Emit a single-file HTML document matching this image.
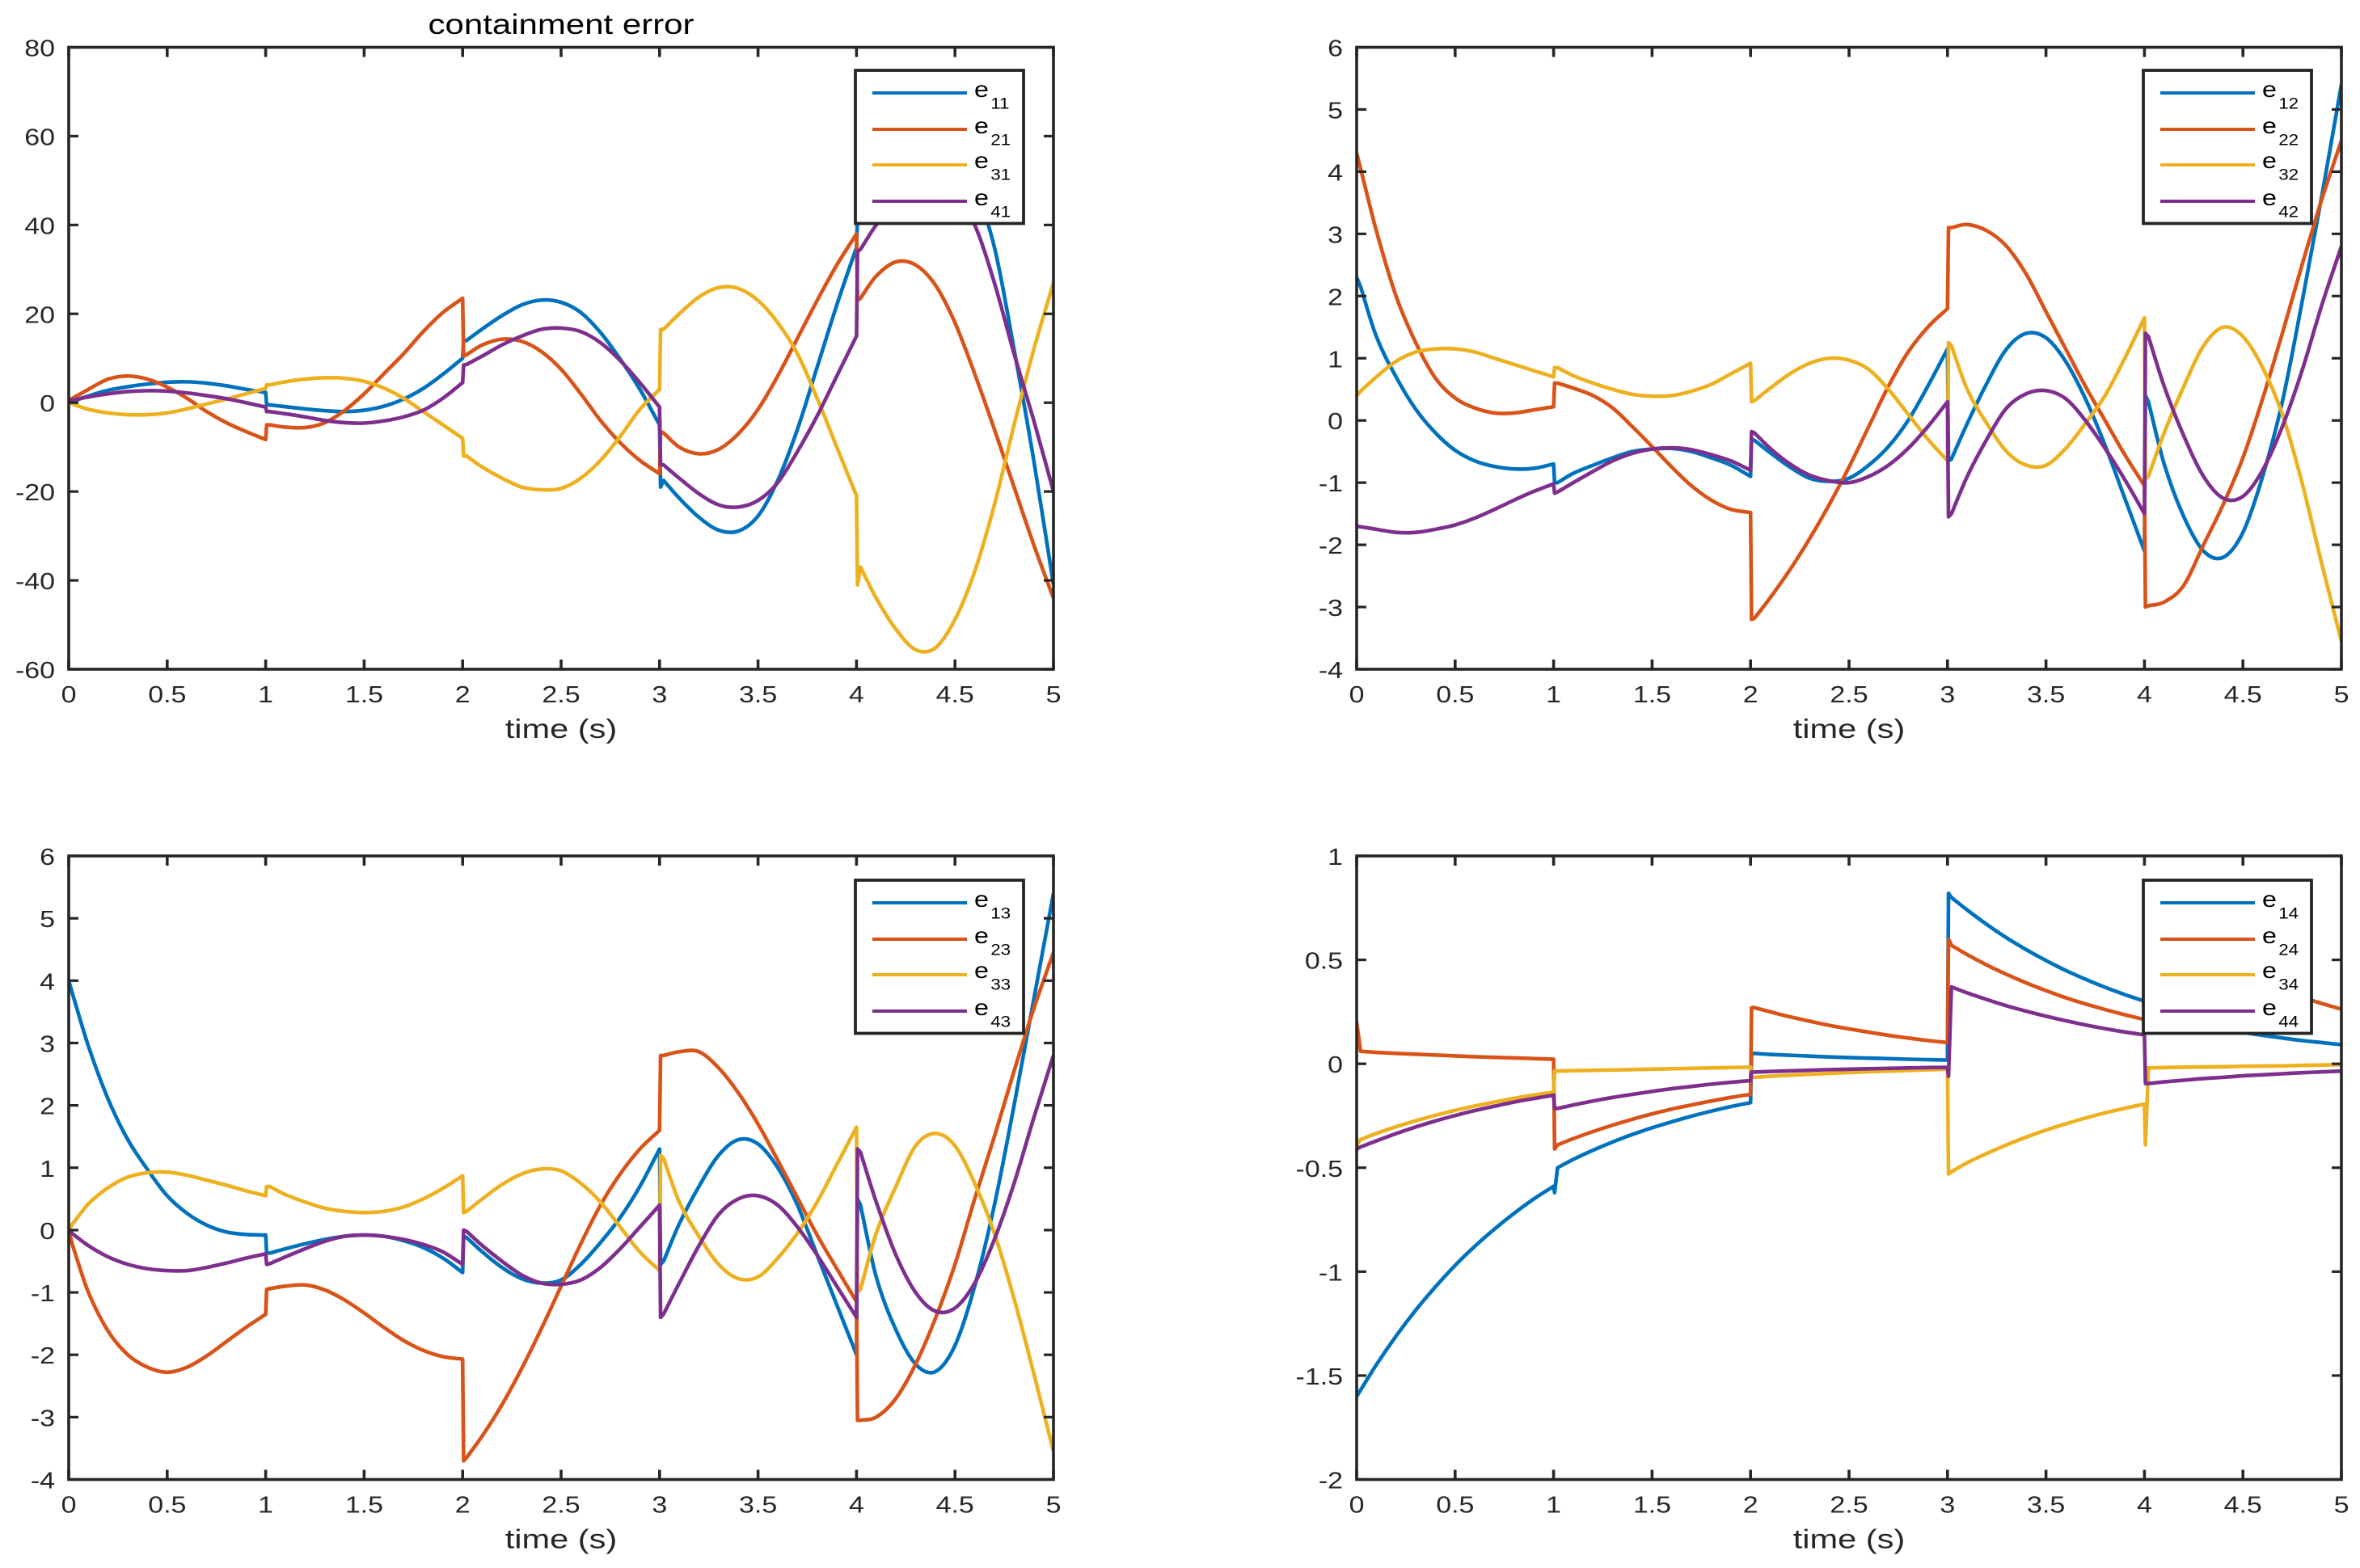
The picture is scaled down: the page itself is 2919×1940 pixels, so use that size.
<!DOCTYPE html>
<html lang="en">
<head>
<meta charset="utf-8">
<title>containment error</title>
<style>
html,body{margin:0;padding:0;background:#fff;}
body{width:2919px;height:1940px;overflow:hidden;}
svg{display:block;}
text{font-family:"Liberation Sans",Arial,sans-serif;}
</style>
</head>
<body>
<svg id="fig" xmlns="http://www.w3.org/2000/svg" width="2919" height="1940" viewBox="0 0 2919 1940">
<rect x="0" y="0" width="2919" height="1940" fill="#ffffff"/>
</svg>
<script>
// Shared time base: each of the 5 intervals holds 12 samples
// (switch overshoot, settled value after switch, then every 0.1 s).
const timeGrid = [
  0,0.02,0.1,0.2,0.3,0.4,0.5,0.6,0.7,0.8,0.9,1.0,
  1.005,1.02,1.1,1.2,1.3,1.4,1.5,1.6,1.7,1.8,1.9,2.0,
  2.005,2.02,2.1,2.2,2.3,2.4,2.5,2.6,2.7,2.8,2.9,3.0,
  3.005,3.02,3.1,3.2,3.3,3.4,3.5,3.6,3.7,3.8,3.9,4.0,
  4.005,4.02,4.1,4.2,4.3,4.4,4.5,4.6,4.7,4.8,4.9,5.0
];
const xTickValues = [0,0.5,1,1.5,2,2.5,3,3.5,4,4.5,5];
const xTickLabels = ["0","0.5","1","1.5","2","2.5","3","3.5","4","4.5","5"];

const yTicksA = [-60,-40,-20,0,20,40,60,80];
const yTicksB = [-4,-3,-2,-1,0,1,2,3,4,5,6];
const yTicksC = [-4,-3,-2,-1,0,1,2,3,4,5,6];
const yTicksD = [-2,-1.5,-1,-0.5,0,0.5,1];

const e11 = [
  0,0.3,1.5,2.8,3.6,4.2,4.6,4.7,4.4,3.8,3.0,2.3,
  -0.5,-0.5,-0.9,-1.4,-1.8,-2,-1.7,-0.8,0.8,3.2,6.4,10,
  14,14,16.6,19.6,22,23.1,22.6,20.3,15.8,9.8,3,-5,
  -19,-17.5,-21.5,-25.8,-28.7,-28.9,-25.5,-17.5,-6,8,22,35,
  42,42,48,53,56,56,53,48,35,12,-13,-41
];
const e21 = [
  0.5,1,3,5.3,6,5.3,3.5,1,-2,-4.5,-6.5,-8.3,
  -5,-5,-5.5,-5.6,-4.5,-1.8,2,6.5,11,16,20.3,23.5,
  10.5,10.8,13,14.3,13.8,11.5,7.5,2,-4,-9,-13,-16,
  -6.5,-6.8,-10,-11.5,-10.5,-7,-1.5,6,14.5,23,31,38,
  23,23.5,28.5,31.7,31,26.5,18,6.5,-6,-19,-32,-44
];
const e31 = [
  0,-0.3,-1.5,-2.3,-2.7,-2.7,-2.3,-1.4,-0.3,0.8,2,3.2,
  4,4,4.7,5.3,5.6,5.5,4.8,3.3,1,-2,-5,-8,
  -12,-12,-14.5,-17,-19,-19.6,-19.3,-17,-13,-7.6,-1.5,3,
  16.5,16.5,20,23.8,25.9,25.7,23,18,11,1,-10,-21,
  -41,-37,-44,-51,-55.6,-55.2,-48.8,-38,-23,-5,12,27
];
const e41 = [
  0.5,0.6,1.3,2,2.5,2.7,2.6,2.2,1.6,0.9,0,-1,
  -2,-2,-2.5,-3.2,-4,-4.5,-4.6,-4.1,-3.2,-1.7,1,4.5,
  8.5,8.6,10.5,13,15,16.5,16.8,16,13.5,9.5,4.5,-1,
  -14,-14,-17,-20.5,-23,-23.5,-22,-18,-11,-3,6,15,
  34,34.5,40,45,49,50,47,40,27,11,-4,-20
];

const e12 = [
  2.3,2.15,1.35,0.7,0.18,-0.2,-0.48,-0.65,-0.74,-0.78,-0.77,-0.7,
  -1,-1,-0.85,-0.72,-0.6,-0.5,-0.46,-0.45,-0.5,-0.6,-0.72,-0.9,
  -0.3,-0.32,-0.52,-0.75,-0.93,-0.98,-0.93,-0.72,-0.42,0,0.55,1.15,
  -0.65,-0.62,-0.05,0.6,1.15,1.4,1.33,0.95,0.35,-0.4,-1.25,-2.1,
  0.4,0.3,-0.7,-1.55,-2.1,-2.2,-1.8,-0.9,0.3,1.9,3.6,5.4
];
const e22 = [
  4.3,4.05,3.05,2.0,1.25,0.68,0.36,0.2,0.12,0.12,0.17,0.22,
  0.6,0.6,0.52,0.4,0.2,-0.1,-0.42,-0.75,-1.05,-1.28,-1.43,-1.48,
  -3.2,-3.18,-2.85,-2.4,-1.9,-1.35,-0.75,-0.1,0.55,1.1,1.5,1.8,
  3.1,3.1,3.15,3.05,2.8,2.35,1.75,1.15,0.55,0,-0.55,-1.05,
  -3,-2.98,-2.92,-2.65,-2.0,-1.35,-0.6,0.35,1.4,2.5,3.55,4.5
];
const e32 = [
  0.4,0.47,0.7,0.95,1.1,1.15,1.15,1.1,1,0.9,0.8,0.7,
  0.85,0.85,0.72,0.6,0.5,0.42,0.39,0.4,0.47,0.58,0.75,0.92,
  0.3,0.32,0.52,0.75,0.92,1,0.97,0.82,0.5,0.1,-0.3,-0.65,
  1.25,1.2,0.5,-0.05,-0.5,-0.72,-0.72,-0.45,-0.05,0.4,1,1.65,
  -0.95,-0.9,-0.2,0.55,1.2,1.5,1.35,0.85,0.1,-1,-2.3,-3.55
];
const e42 = [
  -1.7,-1.71,-1.75,-1.8,-1.8,-1.75,-1.68,-1.57,-1.43,-1.28,-1.14,-1.02,
  -1.17,-1.15,-1,-0.82,-0.65,-0.53,-0.46,-0.44,-0.47,-0.55,-0.65,-0.8,
  -0.18,-0.2,-0.45,-0.7,-0.88,-0.97,-1,-0.9,-0.72,-0.45,-0.1,0.3,
  -1.55,-1.5,-0.9,-0.3,0.2,0.43,0.48,0.35,0,-0.45,-0.95,-1.5,
  1.4,1.35,0.55,-0.25,-0.9,-1.25,-1.22,-0.8,-0.1,0.8,1.85,2.8
];

const e13 = [
  4,3.78,2.95,2.1,1.45,0.97,0.55,0.27,0.08,-0.03,-0.07,-0.08,
  -0.37,-0.37,-0.3,-0.22,-0.15,-0.1,-0.08,-0.1,-0.17,-0.28,-0.45,-0.68,
  -0.1,-0.12,-0.35,-0.6,-0.78,-0.85,-0.8,-0.55,-0.2,0.2,0.7,1.3,
  -0.55,-0.5,0.1,0.7,1.2,1.45,1.38,1,0.4,-0.4,-1.2,-2,
  0.5,0.4,-0.75,-1.6,-2.15,-2.27,-1.85,-0.9,0.4,2,3.7,5.4
];
const e23 = [
  0,-0.25,-1,-1.62,-2.0,-2.2,-2.28,-2.2,-2.02,-1.79,-1.56,-1.35,
  -0.95,-0.94,-0.9,-0.88,-0.96,-1.12,-1.33,-1.56,-1.77,-1.93,-2.03,-2.07,
  -3.7,-3.65,-3.3,-2.8,-2.22,-1.58,-0.9,-0.22,0.4,0.9,1.3,1.6,
  2.8,2.8,2.86,2.86,2.6,2.2,1.7,1.12,0.52,-0.08,-0.62,-1.15,
  -3.05,-3.05,-3,-2.7,-2.15,-1.42,-0.55,0.5,1.5,2.55,3.55,4.45
];
const e33 = [
  0,0.1,0.42,0.68,0.85,0.92,0.93,0.88,0.8,0.72,0.63,0.55,
  0.7,0.7,0.57,0.45,0.35,0.3,0.28,0.3,0.37,0.5,0.67,0.87,
  0.28,0.3,0.5,0.73,0.9,0.98,0.95,0.75,0.45,0.05,-0.35,-0.65,
  1.2,1.15,0.45,-0.1,-0.55,-0.78,-0.75,-0.45,-0.05,0.45,1.05,1.65,
  -1,-0.95,-0.05,0.7,1.35,1.55,1.35,0.75,-0.05,-1.1,-2.3,-3.55
];
const e43 = [
  0,-0.06,-0.25,-0.43,-0.55,-0.62,-0.65,-0.65,-0.6,-0.53,-0.45,-0.38,
  -0.55,-0.54,-0.43,-0.3,-0.18,-0.1,-0.08,-0.1,-0.15,-0.23,-0.35,-0.55,
  0,-0.02,-0.25,-0.5,-0.72,-0.85,-0.87,-0.8,-0.6,-0.3,0.05,0.4,
  -1.4,-1.35,-0.85,-0.25,0.25,0.5,0.55,0.4,0.05,-0.4,-0.9,-1.4,
  1.3,1.25,0.45,-0.4,-1,-1.3,-1.25,-0.85,-0.15,0.75,1.8,2.8
];

const e14 = [
  -1.6,-1.57,-1.448,-1.31,-1.185,-1.073,-0.97,-0.878,-0.795,-0.719,-0.65,-0.589,
  -0.62,-0.5,-0.46,-0.416,-0.376,-0.34,-0.308,-0.279,-0.252,-0.228,-0.206,-0.187,
  0.05,0.05,0.045,0.041,0.037,0.033,0.03,0.027,0.025,0.022,0.02,0.018,
  0.82,0.8,0.74,0.67,0.606,0.549,0.497,0.449,0.407,0.368,0.333,0.301,
  0.25,0.25,0.226,0.204,0.185,0.167,0.151,0.137,0.124,0.112,0.102,0.092
];
const e24 = [
  0.2,0.06,0.055,0.05,0.046,0.042,0.038,0.034,0.031,0.028,0.025,0.022,
  -0.41,-0.39,-0.36,-0.326,-0.295,-0.267,-0.241,-0.218,-0.198,-0.179,-0.162,-0.147,
  0.27,0.27,0.25,0.226,0.205,0.185,0.168,0.152,0.137,0.124,0.112,0.102,
  0.6,0.57,0.525,0.475,0.43,0.389,0.352,0.318,0.288,0.261,0.236,0.213,
  0.7,0.7,0.646,0.585,0.529,0.479,0.433,0.392,0.355,0.321,0.29,0.263
];
const e34 = [
  -0.39,-0.365,-0.335,-0.303,-0.274,-0.248,-0.224,-0.203,-0.184,-0.166,-0.15,-0.136,
  -0.035,-0.035,-0.033,-0.031,-0.03,-0.028,-0.026,-0.024,-0.022,-0.02,-0.018,-0.016,
  -0.065,-0.065,-0.06,-0.055,-0.05,-0.046,-0.042,-0.038,-0.035,-0.032,-0.029,-0.026,
  -0.53,-0.52,-0.476,-0.431,-0.39,-0.353,-0.319,-0.289,-0.261,-0.236,-0.214,-0.194,
  -0.39,-0.02,-0.018,-0.016,-0.015,-0.014,-0.012,-0.011,-0.01,-0.008,-0.006,-0.004
];
const e44 = [
  -0.41,-0.4,-0.371,-0.336,-0.304,-0.275,-0.249,-0.225,-0.204,-0.184,-0.167,-0.151,
  -0.215,-0.215,-0.198,-0.179,-0.162,-0.147,-0.133,-0.12,-0.109,-0.098,-0.089,-0.081,
  -0.04,-0.04,-0.037,-0.034,-0.031,-0.028,-0.026,-0.024,-0.022,-0.02,-0.018,-0.017,
  -0.06,0.37,0.341,0.309,0.279,0.253,0.229,0.207,0.187,0.169,0.153,0.139,
  -0.095,-0.095,-0.087,-0.079,-0.071,-0.065,-0.058,-0.053,-0.048,-0.043,-0.039,-0.035
];

const seriesNames = ["e1","e2","e3","e4"];
const seriesColors = ["#0072BD","#D95319","#EDB120","#7E2F8E"];

const panels = [
  {id:"a",index:"1",left:85,right:1303,top:58.5,bottom:828,yMin:-60,yMax:80,yTicks:yTicksA,series:[e11,e21,e31,e41],legendTop:87,title:"containment error"},
  {id:"b",index:"2",left:1678,right:2896,top:58.5,bottom:828,yMin:-4,yMax:6,yTicks:yTicksB,series:[e12,e22,e32,e42],legendTop:87},
  {id:"c",index:"3",left:85,right:1303,top:1059,bottom:1830.5,yMin:-4,yMax:6,yTicks:yTicksC,series:[e13,e23,e33,e43],legendTop:1089},
  {id:"d",index:"4",left:1678,right:2896,top:1059,bottom:1830.5,yMin:-2,yMax:1,yTicks:yTicksD,series:[e14,e24,e34,e44],legendTop:1089}
];

const SVG_NS = "http://www.w3.org/2000/svg";
const INK = "#262626";
const fig = document.getElementById("fig");

function make(tag, parent, name, attrs) {
  const node = document.createElementNS(SVG_NS, tag);
  
  
  for (const k in attrs) node.setAttribute(k, attrs[k]);
  parent.appendChild(node);
  return node;
}
function stretchedText(parent, name, str, x, y, size, sx, anchor, fill) {
  const node = make("text", parent, name, {
    transform: "translate(" + x + " " + y + ") scale(" + sx + " 1)",
    "font-size": size,
    "text-anchor": anchor,
    fill: fill
  });
  node.textContent = str;
  return node;
}
function xScale(p, t) { return p.left + (t / 5) * (p.right - p.left); }
function yScale(p, v) { return p.bottom - ((v - p.yMin) / (p.yMax - p.yMin)) * (p.bottom - p.top); }

// Straight jump between intervals; smooth Hermite curve through the settled samples.
function seriesPath(p, values) {
  let d = "";
  const perSegment = 12;
  for (let s = 0; s < timeGrid.length / perSegment; s++) {
    const first = s * perSegment;
    const last = first + perSegment - 1;
    d += (s === 0 ? "M" : "L") + xScale(p, timeGrid[first]).toFixed(2) + " " + yScale(p, values[first]).toFixed(2);
    const start = first + 1;
    d += "L" + xScale(p, timeGrid[start]).toFixed(2) + " " + yScale(p, values[start]).toFixed(2);
    const slope = function (i) {
      const a = Math.max(i - 1, start), b = Math.min(i + 1, last);
      return (yScale(p, values[b]) - yScale(p, values[a])) / (xScale(p, timeGrid[b]) - xScale(p, timeGrid[a]));
    };
    for (let i = start; i < last; i++) {
      const x0 = xScale(p, timeGrid[i]), x1 = xScale(p, timeGrid[i + 1]);
      const y0 = yScale(p, values[i]), y1 = yScale(p, values[i + 1]);
      const h = (x1 - x0) / 3;
      d += "C" + (x0 + h).toFixed(2) + " " + (y0 + slope(i) * h).toFixed(2) + " " +
           (x1 - h).toFixed(2) + " " + (y1 - slope(i + 1) * h).toFixed(2) + " " +
           x1.toFixed(2) + " " + y1.toFixed(2);
    }
  }
  return d;
}

panels.forEach(function (p) {
  const g = make("g", fig, "panel-" + p.id, {});
  const clipId = "clip-" + p.id;
  const defs = make("defs", g, "panel-clip-defs", {});
  const clip = make("clipPath", defs, "panel-clip", {id: clipId});
  make("rect", clip, "panel-clip-rect", {x: p.left, y: p.top, width: p.right - p.left, height: p.bottom - p.top});

  const lines = make("g", g, "series-group", {"clip-path": "url(#" + clipId + ")"});
  p.series.forEach(function (vals, i) {
    make("path", lines, "series-" + seriesNames[i] + p.index, {
      d: seriesPath(p, vals), fill: "none", stroke: seriesColors[i],
      "stroke-width": 4.6, "stroke-linejoin": "round"
    });
  });

  // x ticks and labels
  const xAxis = make("g", g, "x-axis", {});
  xTickValues.forEach(function (t, i) {
    const x = xScale(p, t);
    make("line", xAxis, "x-tick-bottom", {x1: x, x2: x, y1: p.bottom, y2: p.bottom - 12, stroke: INK, "stroke-width": 3.6});
    make("line", xAxis, "x-tick-top", {x1: x, x2: x, y1: p.top, y2: p.top + 12, stroke: INK, "stroke-width": 3.6});
    stretchedText(xAxis, "x-tick-label", xTickLabels[i], x, p.bottom + 41, 29, 1.17, "middle", INK);
  });
  stretchedText(xAxis, "x-axis-title", "time (s)", (p.left + p.right) / 2, p.bottom + 85, 33, 1.26, "middle", INK);

  // y ticks and labels
  const yAxis = make("g", g, "y-axis", {});
  p.yTicks.forEach(function (v) {
    const y = yScale(p, v);
    make("line", yAxis, "y-tick-left", {x1: p.left, x2: p.left + 12, y1: y, y2: y, stroke: INK, "stroke-width": 3.2});
    make("line", yAxis, "y-tick-right", {x1: p.right, x2: p.right - 12, y1: y, y2: y, stroke: INK, "stroke-width": 3.2});
    stretchedText(yAxis, "y-tick-label", String(v), p.left - 17, y + 11, 29, 1.17, "end", INK);
  });

  make("rect", g, "axes-frame", {x: p.left, y: p.top, width: p.right - p.left, height: p.bottom - p.top, fill: "none", stroke: INK, "stroke-width": 3.6});

  if (p.title) {
    stretchedText(g, "chart-title", p.title, (p.left + p.right) / 2, 42, 35, 1.2, "middle", "#000000");
  }

  // legend
  const lg = make("g", g, "legend", {});
  const lgLeft = p.right - 245;
  const lgRight = p.right - 37;
  make("rect", lg, "legend-box", {x: lgLeft, y: p.legendTop, width: lgRight - lgLeft, height: 189.5, fill: "#ffffff", stroke: INK, "stroke-width": 3.8});
  const rowOffsets = [28, 73, 117, 162];
  const labelOffsets = [33, 78, 121, 167];
  seriesNames.forEach(function (name, i) {
    const entry = make("g", lg, "legend-entry-" + name + p.index, {});
    const ly = p.legendTop + rowOffsets[i];
    make("line", entry, "legend-line-sample", {x1: lgLeft + 21, x2: lgLeft + 138, y1: ly, y2: ly, stroke: seriesColors[i], "stroke-width": 4});
    const label = make("text", entry, "legend-label", {
      transform: "translate(" + (lgLeft + 147) + " " + (p.legendTop + labelOffsets[i]) + ") scale(1.15 1)",
      "font-size": 28, fill: "#000000"
    });
    const base = make("tspan", label, "legend-label-symbol", {});
    base.textContent = "e";
    const sub = make("tspan", label, "legend-label-subscript", {"font-size": 19.5, dx: 2, dy: 14.5});
    sub.textContent = String(i + 1) + p.index;
  });
});
</script>
</body>
</html>
